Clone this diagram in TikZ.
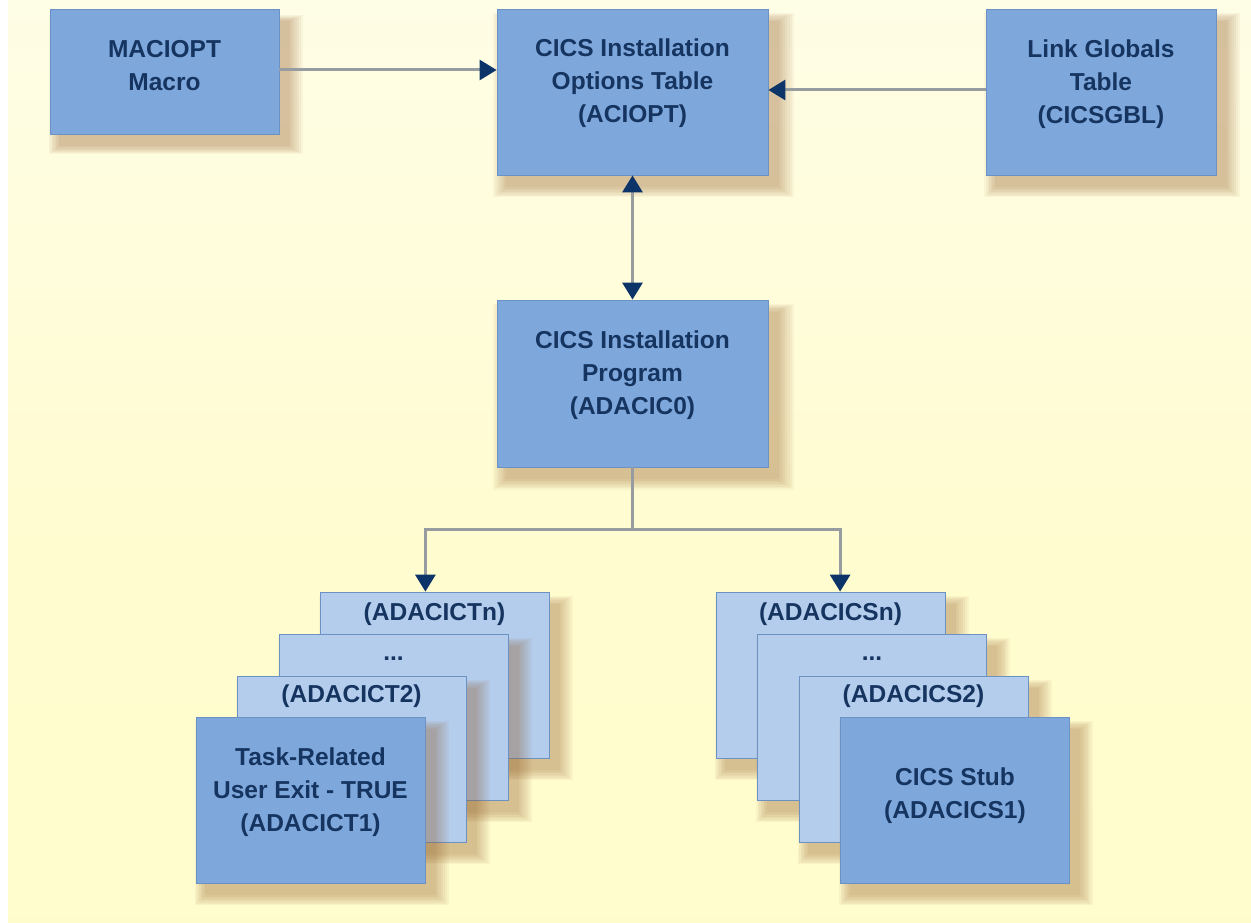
\documentclass[tikz,border=0pt]{standalone}
\usepackage{fontspec}
\setmainfont{Liberation Sans}
\usetikzlibrary{arrows.meta,shadows}
\definecolor{boxblue}{RGB}{126,168,220}
\definecolor{boxedge}{RGB}{108,146,196}
\definecolor{lightblue}{RGB}{180,205,236}
\definecolor{txtblue}{RGB}{22,52,96}
\definecolor{linegray}{RGB}{150,156,160}
\definecolor{tipblue}{RGB}{12,52,104}
\definecolor{shadowcol}{RGB}{150,95,45}
\definecolor{bgtop}{RGB}{254,254,247}
\definecolor{bgmid}{RGB}{255,252,208}
\definecolor{bgbot}{RGB}{255,252,200}
\pgfdeclareverticalshading{bgshade}{100bp}{color(0bp)=(bgbot); color(45bp)=(bgmid); color(100bp)=(bgtop)}
\tikzset{
  navytip/.tip={Triangle[length=17pt,width=20pt,color=tipblue]},
  sh/.style={general shadow={fill=shadowcol, opacity=0.055, shadow scale=#1, shadow xshift=10pt, shadow yshift=-12pt}},
  softshadow/.style={sh=1.11, sh=1.095, sh=1.08, sh=1.065, sh=1.05, sh=1.035, sh=1.02, sh=1.005},
  box/.style={draw=boxedge, line width=0.8pt, fill=boxblue, inner sep=0pt, softshadow},
  backbox/.style={box, fill=lightblue},
  lbl/.style={text=txtblue, font=\fontsize{24.5}{33}\selectfont\bfseries, align=center, inner sep=0pt},
  conn/.style={draw=linegray, line width=3pt},
  arr/.style={conn, -navytip},
  darr/.style={conn, navytip-navytip},
}
\begin{document}
\begin{tikzpicture}[x=1pt,y=-1pt]
\useasboundingbox (0,0) rectangle (1251,923);
\fill[white] (0,0) rectangle (1251,923);
\shade[shading=bgshade] (8,0) rectangle (1251,923);

% top row
\node[box, minimum width=229pt, minimum height=125pt] (mac) at (164.5,71.5) {};
\node[lbl] (macT) at ([yshift=5.5pt]mac.center) {MACIOPT\\Macro};
\node[box, minimum width=271pt, minimum height=166pt] (aciopt) at (632.5,92) {};
\node[lbl] (acioptT) at ([yshift=9pt]aciopt.center) {CICS Installation\\Options Table\\(ACIOPT)};
\node[box, minimum width=230pt, minimum height=166pt] (lgt) at (1101,92) {};
\node[lbl] (lgtT) at ([yshift=8pt]lgt.center) {Link Globals\\Table\\(CICSGBL)};

% program
\node[box, minimum width=271pt, minimum height=167pt] (prog) at (632.5,383.5) {};
\node[lbl] (progT) at ([yshift=8.5pt]prog.center) {CICS Installation\\Program\\(ADACIC0)};

% left stack
\node[backbox, minimum width=229pt, minimum height=166pt] (ctn) at (434.5,675) {};
\node[lbl] (ctnT) at ([yshift=-23pt]ctn.north) {(ADACICTn)};
\node[backbox, minimum width=229pt, minimum height=166pt] (ctd) at (393.5,717) {};
\node[lbl] (ctdT) at ([yshift=-25pt]ctd.north) {...};
\node[backbox, minimum width=229pt, minimum height=166pt] (ct2) at (351.5,759) {};
\node[lbl] (ct2T) at ([yshift=-21pt]ct2.north) {(ADACICT2)};
\node[box, minimum width=229pt, minimum height=166pt] (ct1) at (310.5,800) {};
\node[lbl] (ct1T) at ([yshift=8pt]ct1.center) {Task-Related\\User Exit - TRUE\\(ADACICT1)};

% right stack
\node[backbox, minimum width=229pt, minimum height=166pt] (csn) at (830.5,675) {};
\node[lbl] (csnT) at ([yshift=-23pt]csn.north) {(ADACICSn)};
\node[backbox, minimum width=229pt, minimum height=166pt] (csd) at (872,717) {};
\node[lbl] (csdT) at ([yshift=-25pt]csd.north) {...};
\node[backbox, minimum width=229pt, minimum height=166pt] (cs2) at (913.5,759) {};
\node[lbl] (cs2T) at ([yshift=-21pt]cs2.north) {(ADACICS2)};
\node[box, minimum width=229pt, minimum height=166pt] (cs1) at (955,800) {};
\node[lbl] (cs1T) at ([yshift=4pt]cs1.center) {CICS Stub\\(ADACICS1)};

% connectors
\coordinate (j) at (632.5,529);
\draw[arr] ([yshift=1.5pt]mac.east) -- ([yshift=1.5pt]mac.east -| aciopt.west);
\draw[arr] ([yshift=2pt]lgt.west) -- ([yshift=2pt]lgt.west -| aciopt.east);
\draw[darr] (aciopt.south) -- (prog.north);
\draw[conn] (prog.south) -- (j);
\draw[arr] (j) -| (ct1.east |- ctn.north);
\draw[arr] (j) -| (cs1.west |- csn.north);
\end{tikzpicture}
\end{document}
